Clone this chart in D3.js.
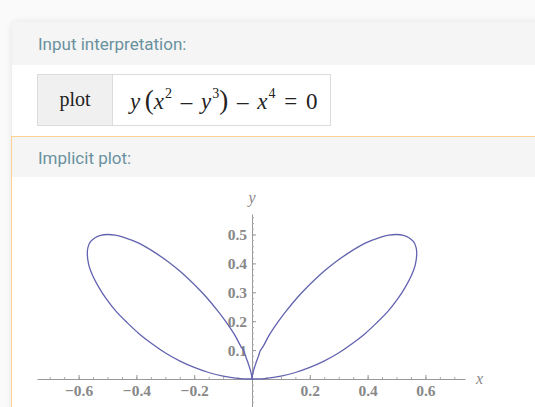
<!DOCTYPE html>
<html>
<head>
<meta charset="utf-8">
<script src="https://cdn.jsdelivr.net/npm/d3@7"></script>
<style>
  body { margin: 0; width: 535px; height: 407px; overflow: hidden; background: #fafafa; font-family: Roboto, sans-serif; }
  .card { position: absolute; left: 12px; top: 22px; width: 560px; height: 420px; background: #fff;
          border-top-left-radius: 5px; box-shadow: 0 0 7px rgba(0,0,0,0.10); }
  .head { position: absolute; left: 0; width: 100%; background: #f5f5f5; color: #6a919e; font-size: 17px; }
  .head span { position: absolute; left: 26px; }
  .tbl { position: absolute; left: 25px; top: 52px; height: 50px; width: 292px; border: 1px solid #dcdcdc; background: #fff; }
  .cell1 { position: absolute; left: 0; top: 0; width: 74px; height: 50px; background: #f0f0f0; border-right: 1px solid #dcdcdc;
           font-family: "Liberation Serif", serif; font-size: 20px; color: #222; text-align: center; line-height: 49px; }
  .formula { position: absolute; left: 92px; top: 0; line-height: 50px; font-family: "Liberation Serif", serif; font-size: 23px; color: #222; white-space: nowrap; word-spacing: 3px; }
  .formula i { font-style: italic; }
  .formula sup { font-size: 14px; vertical-align: 11px; line-height: 0; margin-left: 1px; }
  .formula .p { font-size: 27px; }
  .pod2 { position: absolute; left: -1px; top: 114px; width: 600px; height: 400px; border-top: 1px solid #ffd48e; border-left: 1px solid #ffd48e; background: #fff; }
  svg { position: absolute; left: 0; top: 0; }
</style>
</head>
<body>
<div class="card">
  <div class="head" style="top:0;height:43px;border-top-left-radius:5px;"><span style="top:12px">Input interpretation:</span></div>
  <div class="tbl">
    <div class="cell1">plot</div>
    <div class="formula"><i>y</i>&thinsp;<span class="p">(</span><i>x</i><sup>2</sup> – <i>y</i><sup>3</sup><span class="p">)</span> – <i>x</i><sup>4</sup> = 0</div>
  </div>
  <div class="pod2">
    <div class="head" style="top:0;height:40px;"><span style="top:11px">Implicit plot:</span></div>
  </div>
</div>
<svg id="chart" width="535" height="407"></svg>
<script>
// curve y(x^2 - y^3) - x^4 = 0
var rightLoop = [
  [0,0],[0.05,0.0025],[0.1,0.01],[0.15,0.0225],[0.2,0.04],[0.249,0.062],[0.298,0.089],[0.345,0.121],
  [0.39,0.156],[0.432,0.195],[0.471,0.235],[0.504,0.277],[0.531,0.319],[0.552,0.359],[0.565,0.395],
  [0.570,0.433],[0.568,0.454],[0.559,0.475],[0.543,0.489],[0.524,0.497],[0.5,0.5],[0.474,0.498],
  [0.446,0.491],[0.39,0.469],[0.337,0.438],[0.289,0.405],[0.247,0.371],[0.182,0.309],[0.157,0.282],
  [0.118,0.235],[0.09,0.198],[0.062,0.156],[0.037,0.11],[0.028,0.097],[0.023,0.081],[0.016,0.062],[0.005,0.028],
  [0.001,0.01],[0,0]
]
var leftLoop = [
  [0,0],[-0.05,0.0025],[-0.1,0.01],[-0.15,0.0225],[-0.2,0.04],[-0.249,0.062],[-0.298,0.089],[-0.345,0.121],
  [-0.39,0.156],[-0.432,0.195],[-0.471,0.235],[-0.504,0.277],[-0.531,0.319],[-0.552,0.359],[-0.565,0.395],
  [-0.570,0.433],[-0.568,0.454],[-0.559,0.475],[-0.543,0.489],[-0.524,0.497],[-0.5,0.5],[-0.474,0.498],
  [-0.446,0.491],[-0.39,0.469],[-0.337,0.438],[-0.289,0.405],[-0.247,0.371],[-0.182,0.309],[-0.157,0.282],
  [-0.118,0.235],[-0.09,0.198],[-0.062,0.156],[-0.037,0.11],[-0.028,0.097],[-0.023,0.081],[-0.016,0.062],[-0.005,0.028],
  [-0.001,0.01],[0,0]
]
var xTicks = [-0.6, -0.4, -0.2, 0.2, 0.4, 0.6]
var yTicks = [0.1, 0.2, 0.3, 0.4, 0.5]
var xMinor = d3.range(-0.7, 0.71, 0.05)
var yMinor = d3.range(-0.1, 0.571, 0.02)

var svg = d3.select('#chart')
var x = d3.scaleLinear().domain([-0.744, 0.737]).range([37, 465])
var y = d3.scaleLinear().domain([0, 0.5]).range([379, 234.5])
var fmt = d => d3.format('.1f')(d).replace('-', '\u2212')

// y axis (drawn first, under the x axis)
var ya = svg.append('g').attr('transform', 'translate(' + x(0) + ',0)')
ya.call(d3.axisLeft(y.copy().domain([-0.1, 0.571]).range([y(-0.1), y(0.571)])).tickValues(yMinor).tickSizeInner(-2).tickSizeOuter(0).tickFormat(''))
ya.call(g => g.select('.domain').attr('stroke', '#999'))
ya.selectAll('.tick line').attr('stroke', '#aaa')
var ya2 = svg.append('g').attr('transform', 'translate(' + x(0) + ',0)')
ya2.call(d3.axisLeft(y).tickValues(yTicks).tickSizeInner(-4).tickSizeOuter(0).tickPadding(5).tickFormat(fmt))
ya2.select('.domain').remove()
ya2.selectAll('.tick line').attr('stroke', '#999')

// x axis
var xa = svg.append('g').attr('transform', 'translate(0,' + y(0) + ')')
xa.call(d3.axisBottom(x).tickValues(xMinor).tickSizeInner(-2).tickSizeOuter(0).tickFormat(''))
xa.select('.domain').attr('stroke', '#999')
xa.selectAll('.tick line').attr('stroke', '#aaa')
var xa2 = svg.append('g').attr('transform', 'translate(0,' + y(0) + ')')
xa2.call(d3.axisBottom(x).tickValues(xTicks).tickSizeInner(-4).tickSizeOuter(0).tickPadding(6).tickFormat(fmt))
xa2.select('.domain').remove()
xa2.selectAll('.tick line').attr('stroke', '#999')

svg.selectAll('.tick text').attr('font-family', '"Liberation Serif", serif').attr('font-size', 15.5)
   .attr('font-weight', 'bold').attr('fill', '#888')

svg.append('text').attr('x', x(0)).attr('y', 203).attr('text-anchor', 'middle')
   .attr('font-family', '"Liberation Serif", serif').attr('font-style', 'italic').attr('font-size', 16).attr('fill', '#888').text('y')
svg.append('text').attr('x', 476).attr('y', 384)
   .attr('font-family', '"Liberation Serif", serif').attr('font-style', 'italic').attr('font-size', 16).attr('fill', '#888').text('x')

var line = d3.line().x(d => x(d[0])).y(d => y(d[1])).curve(d3.curveCatmullRom)
svg.selectAll('.loop').data([leftLoop, rightLoop]).enter().append('path')
   .attr('class', 'loop')
   .attr('d', line)
   .attr('fill', 'none')
   .attr('stroke', '#6262b0')
   .attr('stroke-width', 1.3)
</script>
</body>
</html>
